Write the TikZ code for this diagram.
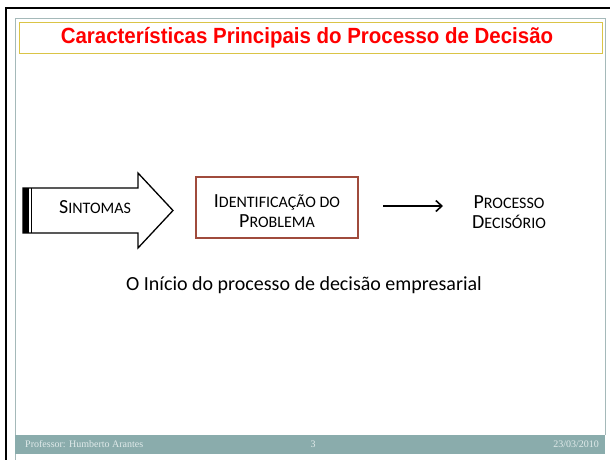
\documentclass[tikz,border=0pt]{standalone}
\usepackage{fontspec}
\setmainfont{Carlito}
\newfontfamily\titlefont{Liberation Sans}
\newfontfamily\footfont{Liberation Serif}
\usetikzlibrary{arrows.meta}
\definecolor{titlered}{RGB}{255,0,0}
\definecolor{titlebox}{RGB}{218,196,70}
\definecolor{framegrey}{RGB}{165,185,185}
\definecolor{bandteal}{RGB}{138,172,172}
\definecolor{foottext}{RGB}{225,235,235}
\definecolor{boxbrown}{RGB}{160,75,60}
\newcommand{\scbig}[1]{{\fontsize{20}{20}\selectfont #1}}
\newcommand{\scsmall}[1]{{\fontsize{16}{20}\selectfont #1}}
\tikzset{
  sctext/.style={align=center, inner sep=0pt, text=black, font=\fontsize{20}{20}\selectfont},
  foot/.style={inner sep=0pt, text=foottext, font=\footfont\fontsize{10}{12}\selectfont},
}
\begin{document}
\begin{tikzpicture}[x=1pt,y=-1pt]
\useasboundingbox (0,0) rectangle (610,459);
\fill[white] (0,0) rectangle (610,459);
% outer black frame
\draw[black, line width=2.5pt] (6,470) -- (6,8) -- (620,8);
% grey inner frame
\draw[framegrey, line width=1pt] (15,470) -- (15,18.5) -- (605,18.5) -- (605,435);
% footer band
\fill[bandteal] (15,435) rectangle (605,454);
\node[foot, anchor=west] (prof) at (25,444.5) {Professor: Humberto Arantes};
\node[foot] (num) at (313,444.5) {3};
\node[foot, anchor=east] (date) at (599,444.5) {23/03/2010};
% title
\draw[titlebox, line width=1pt] (19.5,22) rectangle (602.5,53);
\node[inner sep=0pt, text=titlered, font=\titlefont\bfseries\fontsize{22}{24}\selectfont] (title) at (307,37.5)
  {\scalebox{0.93}[1]{Características Principais do Processo de Decisão}};
% block arrow
\draw[black, line width=1.3pt, line join=miter, fill=white]
  (23,188) -- (138,188) -- (138,173) -- (173,210.5) -- (138,248) -- (138,233) -- (23,233) -- cycle;
\fill[black] (23,188) rectangle (29,233);
\draw[black, line width=1pt] (31.5,188) -- (31.5,233);
\node[sctext] (sint) at (95,207.5) {\scbig{S}\scsmall{INTOMAS}};
% identification box
\node[draw=boxbrown, line width=1.6pt, minimum width=162pt, minimum height=61pt, inner sep=0pt] (ident) at (277,207.5) {};
\node[sctext] (identtxt) at ([yshift=-4pt]ident.center)
  {\scbig{I}\scsmall{DENTIFICAÇÃO DO}\\\scbig{P}\scsmall{ROBLEMA}};
% processo decisorio
\node[sctext] (proc) at (509,212)
  {\scbig{P}\scsmall{ROCESSO}\\\scbig{D}\scsmall{ECISÓRIO}};
\coordinate (a1) at (383,206);
\coordinate (a2) at (443,206);
\draw[black, line width=1.6pt, -{Straight Barb[length=6pt,width=11pt,line width=1.6pt]}] (a1) -- (a2);
% caption
\node[inner sep=0pt, font=\fontsize{20}{24}\selectfont] (cap) at (304,285) {O Início do processo de decisão empresarial};
\end{tikzpicture}
\end{document}
